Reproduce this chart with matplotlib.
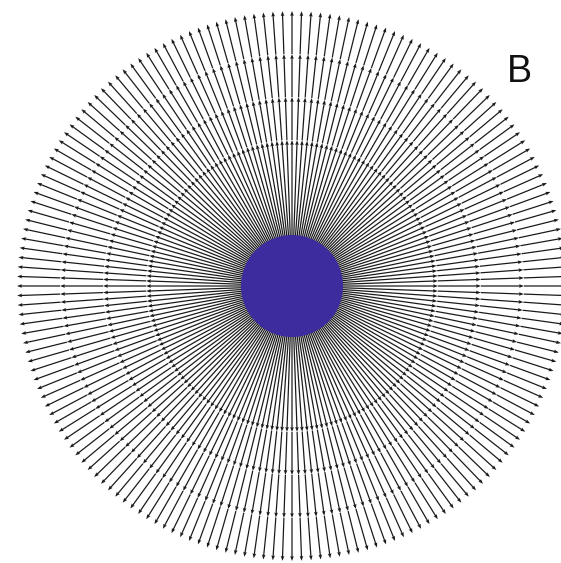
import numpy as np
import matplotlib
matplotlib.use("Agg")
import matplotlib.pyplot as plt
from matplotlib.patches import Circle

# layout in picture pixels
center = (292, 286)
core_radius = 51
n_lines = 180                      # one ray every 2 degrees
ring_radii = [146, 189, 232, 275]  # where the arrowheads sit
core_color = "#3d2c9e"
label = "B"

fig = plt.figure(figsize=(5.61, 5.63), dpi=100)
ax = fig.add_axes([0, 0, 1, 1])
ax.set_xlim(0, 561)
ax.set_ylim(563, 0)
ax.set_aspect("equal")
ax.axis("off")

theta = np.deg2rad(np.arange(n_lines) * 360.0 / n_lines)
starts = [core_radius - 5] + ring_radii[:-1]
for r0, r1 in zip(starts, ring_radii):
    x0 = center[0] + r0 * np.cos(theta)
    y0 = center[1] - r0 * np.sin(theta)
    u = (r1 - r0) * np.cos(theta)
    v = -(r1 - r0) * np.sin(theta)
    ax.quiver(x0, y0, u, v, angles="xy", scale_units="xy", scale=1,
              width=0.0022, headwidth=3.0, headlength=4.0, headaxislength=3.5,
              color="#1a1a1a", zorder=1)

ax.add_patch(Circle(center, core_radius, facecolor=core_color,
                    edgecolor="none", zorder=3))

ax.text(519, 72, label, fontsize=27, family="Liberation Sans",
        ha="center", va="center", color="#111111")

fig.savefig("out.png", dpi=100)
